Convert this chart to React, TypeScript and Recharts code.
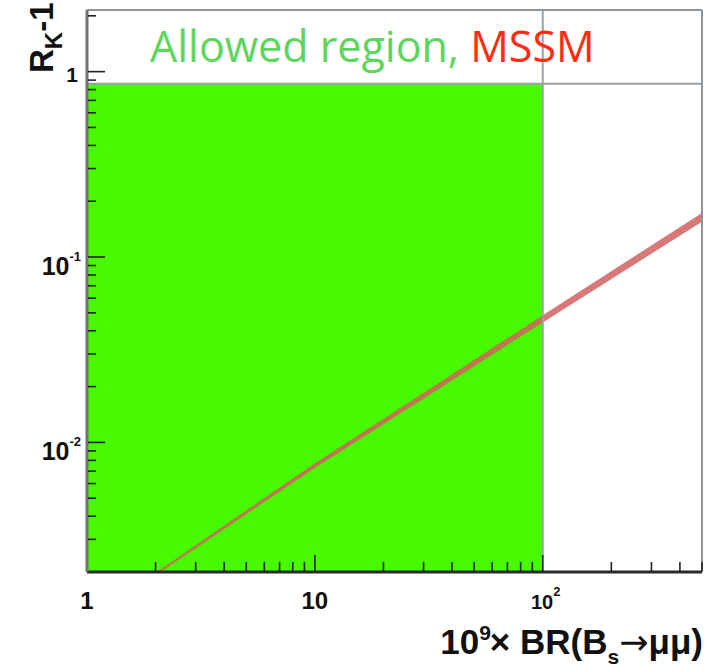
import React from "react";
import {
  ComposedChart,
  Area,
  XAxis,
  YAxis,
  ReferenceArea,
  ReferenceLine,
} from "recharts";

// Branching ratio 10^9 x BR(Bs -> mu mu) sample points along the MSSM band
const brValues = [2, 10, 40, 100, 500];
// R_K - 1 band edges at those points
const rkLow = [0.00192, 0.00727, 0.0216, 0.0444, 0.155];
const rkHigh = [0.00198, 0.00773, 0.0233, 0.0485, 0.173];

// Allowed region limits
const allowedBrMax = 100;
const allowedRkMax = 0.86;

// Axis ranges
const xDomain = [1, 500];
const yDomain = [0.002, 2.15];

// Tick marks
const xMajorTicks = [1, 10, 100];
const xMajorLabels = [["1", ""], ["10", ""], ["10", "2"]];
const xMinorTicks = [2, 3, 4, 5, 6, 7, 8, 9, 20, 30, 40, 50, 60, 70, 80, 90, 200, 300, 400, 500];
const yMajorTicks = [0.01, 0.1, 1];
const yMajorLabels = [["10", "-2"], ["10", "-1"], ["1", ""]];
const yMinorTicks = [
  0.003, 0.004, 0.005, 0.006, 0.007, 0.008, 0.009,
  0.02, 0.03, 0.04, 0.05, 0.06, 0.07, 0.08, 0.09,
  0.2, 0.3, 0.4, 0.5, 0.6, 0.7, 0.8, 0.9, 2,
];

const bandData = brValues.map((br, i) => ({ br, band: [rkLow[i], rkHigh[i]] }));

const W = 713;
const H = 668;
const LABEL_FONT = "'Liberation Sans', Arial, Helvetica, sans-serif";
const TICK_COLOR = "#222";

function XTick(props: any) {
  const { x, y, payload } = props;
  const v = payload.value;
  const idx = xMajorTicks.indexOf(v);
  const major = idx >= 0;
  const len = major ? 16 : 9;
  const [base, exp] = major ? xMajorLabels[idx] : ["", ""];
  const small = exp !== "";
  return (
    <g>
      {v !== xDomain[0] && (
        <line x1={x} x2={x} y1={y - 1} y2={y - 1 - len} stroke={TICK_COLOR} strokeWidth={1.6} />
      )}
      {major && (
        <text
          x={small ? x + 3 : x}
          y={y + 37}
          textAnchor="middle"
          fontFamily={LABEL_FONT}
          fontWeight="bold"
          fontSize={small ? 20 : 24}
          fill="#111"
        >
          {base}
          {small && (
            <tspan dy={-13} fontSize={13}>
              {exp}
            </tspan>
          )}
        </text>
      )}
    </g>
  );
}

function YTick(props: any) {
  const { x, y, payload } = props;
  const v = payload.value;
  const idx = yMajorTicks.indexOf(v);
  const major = idx >= 0;
  const len = major ? 17 : 8;
  const [base, exp] = major ? yMajorLabels[idx] : ["", ""];
  const hasExp = exp !== "";
  return (
    <g>
      <line x1={x + 1} x2={x + 1 + len} y1={y} y2={y} stroke={TICK_COLOR} strokeWidth={1.6} />
      {major && !hasExp && (
        <text x={x - 9} y={y + 10} textAnchor="end" fontFamily={LABEL_FONT} fontWeight="bold" fontSize={21} fill="#111">
          {base}
        </text>
      )}
      {major && hasExp && (
        <text x={x - 6} y={y + 18} textAnchor="end" fontFamily={LABEL_FONT} fontWeight="bold" fontSize={25} fill="#111">
          {base}
          <tspan dy={-14} fontSize={13}>
            {exp}
          </tspan>
        </text>
      )}
    </g>
  );
}

export default function App() {
  return (
    <div style={{ position: "absolute", left: 0, top: 0, width: W, height: H, background: "#fff" }}>
      <ComposedChart
        width={W}
        height={H}
        data={bandData}
        margin={{ top: 10, right: 11, bottom: 0, left: 0 }}
      >
        <XAxis
          dataKey="br"
          type="number"
          scale="log"
          domain={xDomain}
          allowDataOverflow
          ticks={[...xMajorTicks, ...xMinorTicks]}
          tick={<XTick />}
          tickSize={0}
          tickMargin={0}
          tickLine={false}
          interval={0}
          height={96}
          axisLine={{ stroke: "#2a2a2a", strokeWidth: 3 }}
        />
        <YAxis
          type="number"
          scale="log"
          domain={yDomain}
          allowDataOverflow
          ticks={[...yMajorTicks, ...yMinorTicks]}
          tick={<YTick />}
          tickSize={0}
          tickMargin={0}
          tickLine={false}
          interval={0}
          width={87}
          axisLine={{ stroke: "#707478", strokeWidth: 3 }}
        />
        <ReferenceArea
          x1={xDomain[0]}
          x2={allowedBrMax}
          y1={yDomain[0]}
          y2={allowedRkMax}
          fill="#47fa00"
          fillOpacity={1}
          stroke="none"
        />
        <ReferenceLine x={allowedBrMax} stroke="#9aa0a8" strokeWidth={2} />
        <ReferenceLine y={allowedRkMax} stroke="#9aa0a8" strokeWidth={2} />
        <ReferenceLine y={yDomain[1]} stroke="#8e949b" strokeWidth={2} />
        <ReferenceLine x={xDomain[1]} stroke="#8e949b" strokeWidth={2} />
        <Area
          dataKey="band"
          type="linear"
          stroke="none"
          fill="#d26060"
          fillOpacity={0.85}
          isAnimationActive={false}
        />
      </ComposedChart>
      <svg
        width={W}
        height={H}
        style={{ position: "absolute", left: 0, top: 0, pointerEvents: "none" }}
      >
        <text x={150} y={62} fontFamily="'Open Sans', sans-serif" fontSize={43}>
          <tspan fill="#5cd65c">Allowed region, </tspan>
          <tspan fill="#ff2d12">MSSM</tspan>
        </text>
        <text
          transform="translate(53,73) rotate(-90)"
          fontFamily={LABEL_FONT}
          fontWeight="bold"
          fontSize={33}
          fill="#111"
        >
          R
          <tspan dy={9} fontSize={24}>K</tspan>
          <tspan dy={-9}>-1</tspan>
        </text>
        <text
          x={703}
          y={654}
          textAnchor="end"
          fontFamily={LABEL_FONT}
          fontWeight="bold"
          fontSize={35}
          fill="#111"
        >
          10
          <tspan dy={-14} fontSize={21}>9</tspan>
          <tspan dx={-1} dy={14}>× BR(B</tspan>
          <tspan dy={10} fontSize={21}>s</tspan>
          <tspan dy={-10} fontFamily="'DejaVu Sans', sans-serif" fontWeight="normal">→</tspan>
          <tspan>μμ)</tspan>
        </text>
      </svg>
    </div>
  );
}
